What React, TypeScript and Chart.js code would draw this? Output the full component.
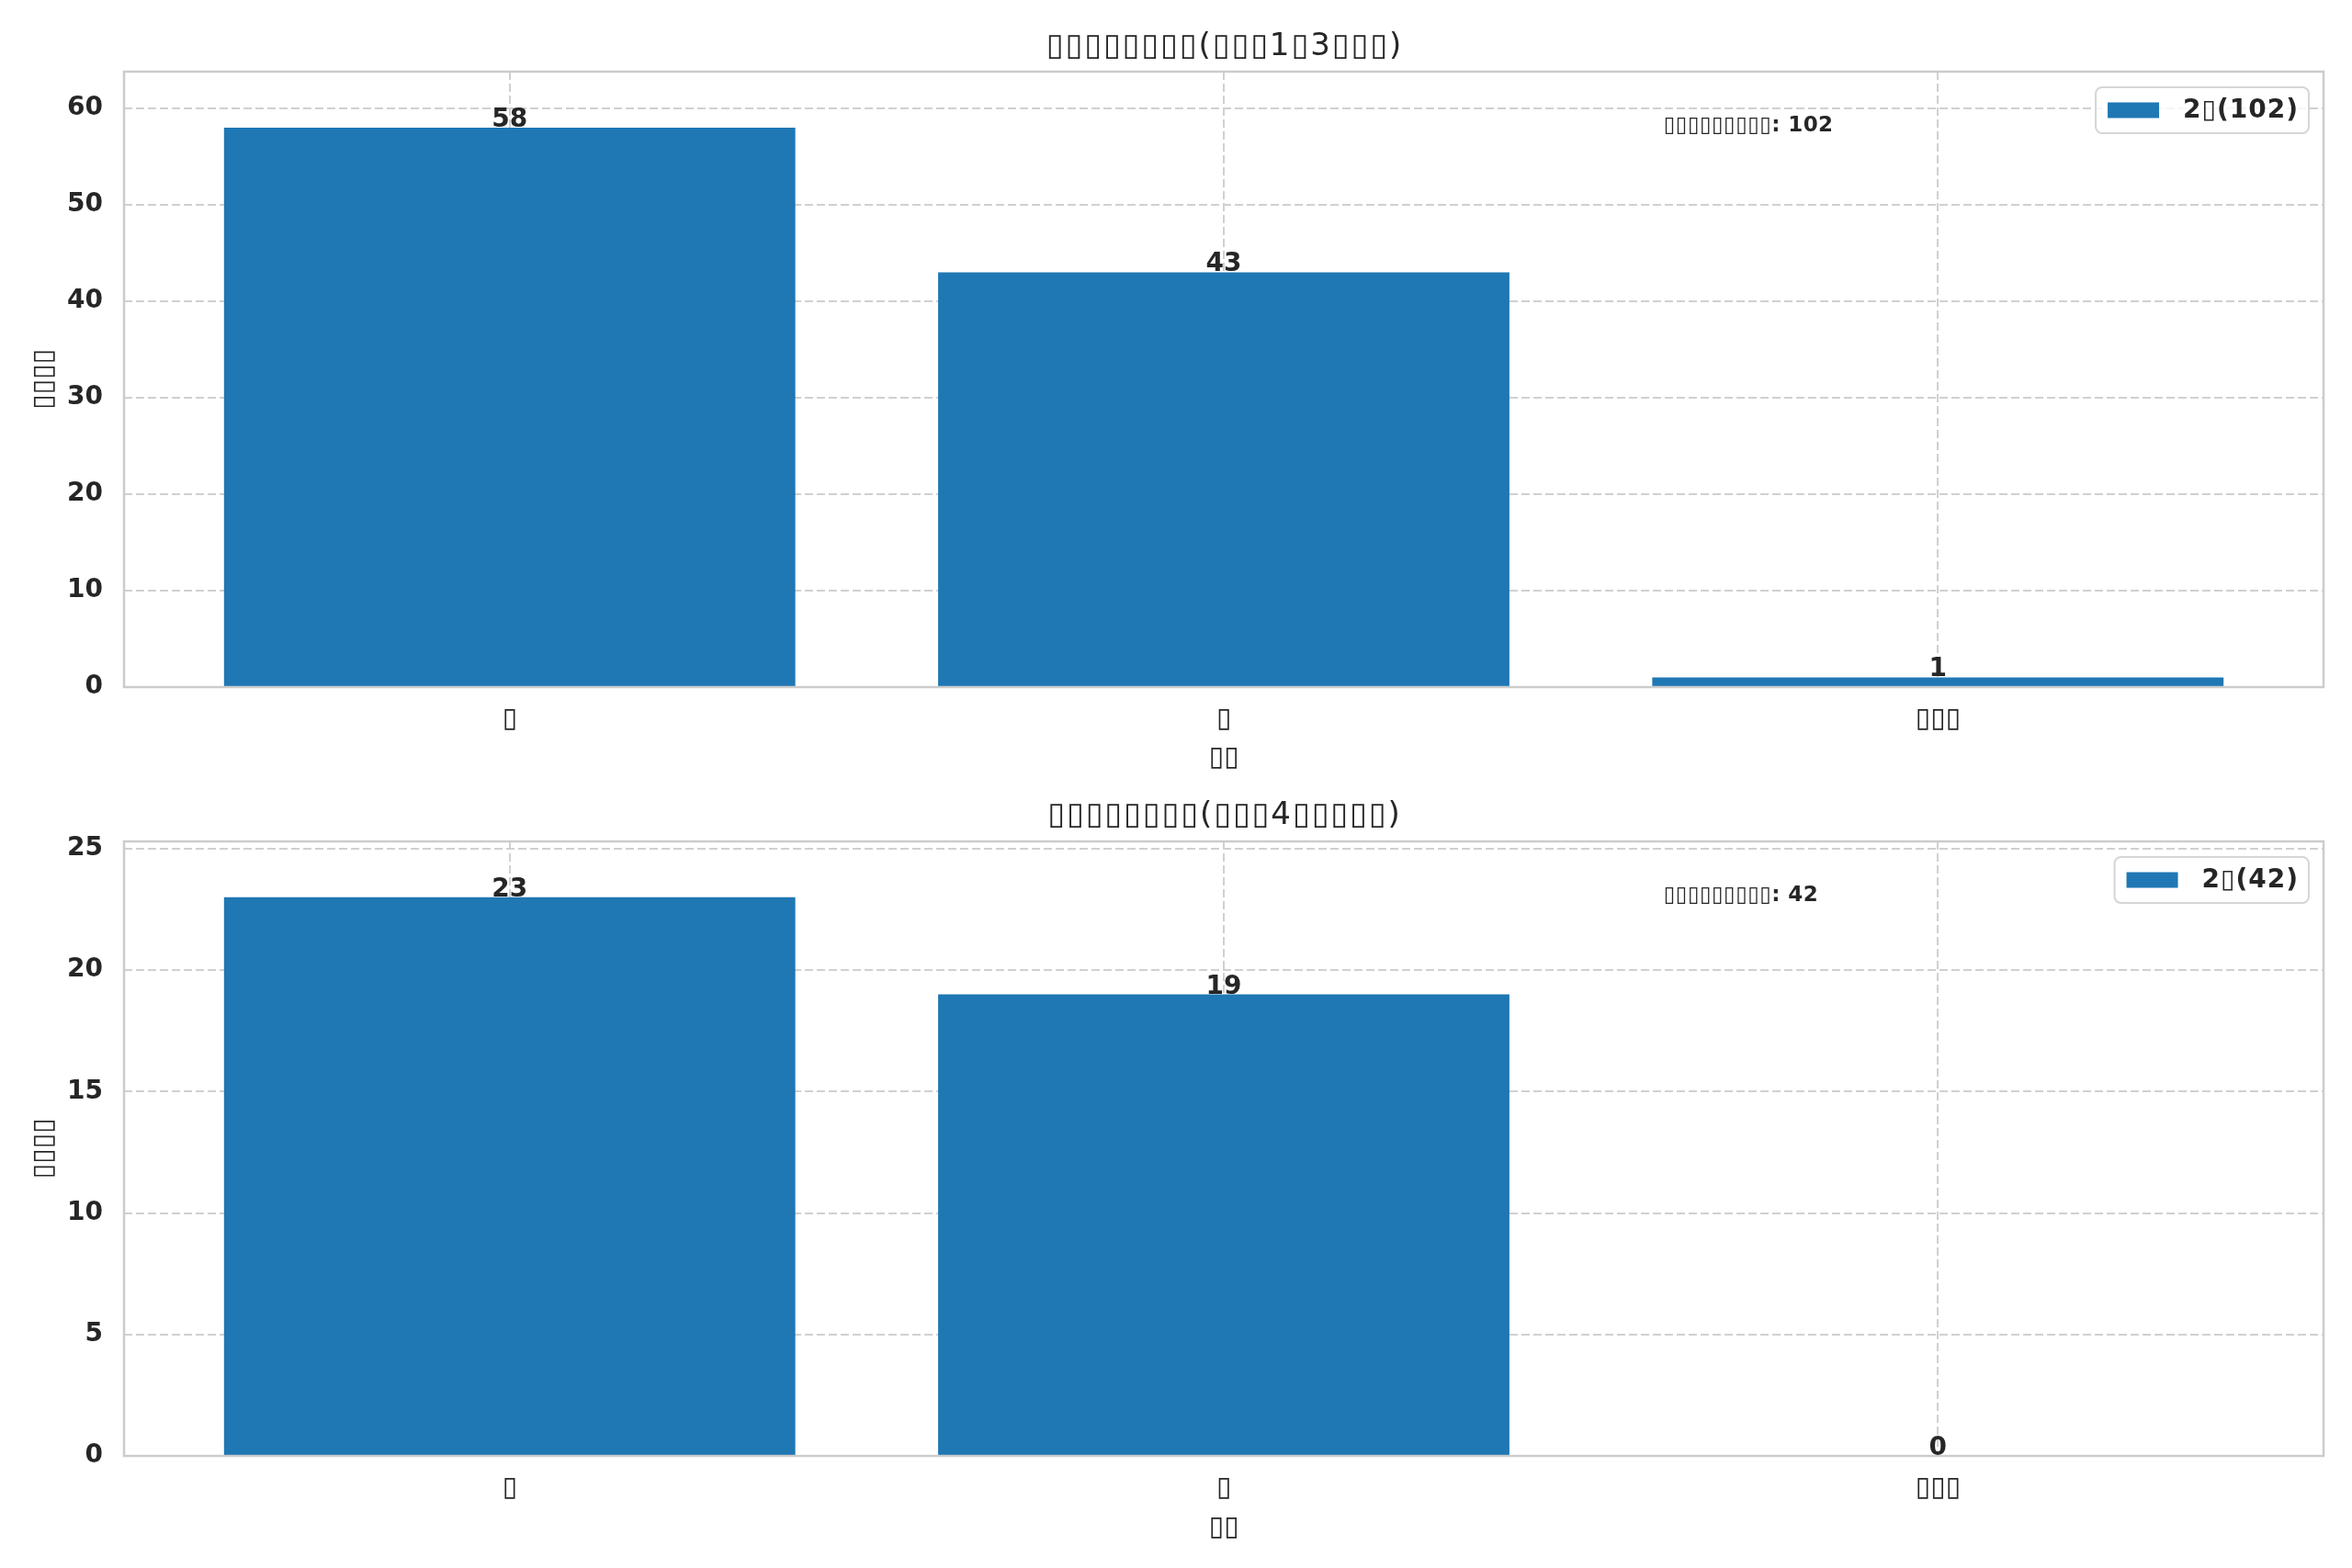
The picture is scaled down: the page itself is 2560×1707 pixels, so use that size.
import React, { useEffect, useRef } from "react";
import { Chart, registerables } from "chart.js";

Chart.register(...registerables);

// data (the original glyphs render as missing-glyph boxes)
const categories = ["▯", "▯", "▯▯▯"];
const topValues = [58, 43, 1];
const bottomValues = [23, 19, 0];
const titles = ["▯▯▯▯▯▯▯▯(▯▯▯1▯3▯▯▯)", "▯▯▯▯▯▯▯▯(▯▯▯4▯▯▯▯▯)"];
const legendLabels = ["2▯(102)", "2▯(42)"];
const noteLabels = ["▯▯▯▯▯▯▯▯▯: 102", "▯▯▯▯▯▯▯▯▯: 42"];
const yMaxes = [63.8, 25.3];
const yStepSizes = [10, 5];
const xLabel = "▯▯";
const yLabel = "▯▯▯▯";

const FONT = "'DejaVu Sans', sans-serif";
const TEXT = "#262626";
const BAR = "#1f77b4";

interface PanelProps {
  values: number[];
  title: string;
  legend: string;
  note: string;
  yMax: number;
  step: number;
  height: number;
  titleY: number;
  plotTop: number;
  plotBottom: number;
  xLabelY: number;
}

const Panel: React.FC<PanelProps> = (p) => {
  const chartRef = useRef<HTMLCanvasElement | null>(null);

  useEffect(() => {
    if (!chartRef.current) return;
    const ctx = chartRef.current.getContext("2d");
    if (!ctx) return;

    const overlay = {
      id: "overlay",
      afterDatasetsDraw(chart: any) {
        const c = chart.ctx;
        const area = chart.chartArea;
        const meta = chart.getDatasetMeta(0);
        c.save();

        // spines all round
        c.strokeStyle = "#cccccc";
        c.lineWidth = 2.5;
        c.setLineDash([]);
        c.strokeRect(area.left, area.top, area.right - area.left, area.bottom - area.top);

        // title, centred on the plot area
        c.font = `34px ${FONT}`;
        c.fillStyle = TEXT;
        c.textAlign = "center";
        c.textBaseline = "middle";
        c.letterSpacing = "2px";
        c.fillText(p.title, (area.left + area.right) / 2 + 1, p.titleY + 1);
        c.letterSpacing = "0px";

        // value labels
        c.font = `bold 28px ${FONT}`;
        c.textBaseline = "alphabetic";
        meta.data.forEach((bar: any, i: number) => {
          c.fillText(String(p.values[i]), bar.x, bar.y - 1);
        });

        // note text
        c.font = `bold 23px ${FONT}`;
        c.letterSpacing = "0.4px";
        c.textAlign = "left";
        c.textBaseline = "middle";
        c.fillText(p.note, area.left + 0.7 * (area.right - area.left), area.top + 59);

        // legend
        c.font = `bold 28px ${FONT}`;
        c.letterSpacing = "1px";
        const tw = c.measureText(p.legend).width;
        const right = area.right - 16;
        const top = area.top + 17;
        const w = 13 + 56 + 26 + tw + 11;
        const h = 50;
        const left = right - w;
        c.beginPath();
        c.roundRect(left, top, w, h, 7);
        c.fillStyle = "rgba(255,255,255,0.8)";
        c.fill();
        c.strokeStyle = "#d6d6d6";
        c.lineWidth = 2;
        c.stroke();
        c.fillStyle = BAR;
        c.fillRect(left + 13, top + h / 2 - 8.5, 56, 17);
        c.fillStyle = TEXT;
        c.textBaseline = "middle";
        c.fillText(p.legend, left + 13 + 56 + 26, top + h / 2 + 1);
        c.letterSpacing = "0px";

        c.restore();
      },
    };

    const chart = new Chart(ctx, {
      type: "bar",
      data: {
        datasets: [
          {
            label: p.legend,
            data: p.values.map((v, i) => ({ x: i, y: v })),
            backgroundColor: BAR,
            borderWidth: 0,
            barPercentage: 0.8,
            categoryPercentage: 1.0,
          },
        ],
      },
      options: {
        responsive: false,
        animation: false,
        layout: { padding: { left: 0, right: 31, top: 0, bottom: 0 } },
        plugins: {
          legend: { display: false },
          tooltip: { enabled: false },
          // reserves the space; the text itself is drawn by the overlay
          title: {
            display: true,
            text: p.title,
            color: "rgba(0,0,0,0)",
            font: { family: FONT, size: 34, weight: "normal", lineHeight: 1.2 },
            padding: { top: p.titleY - 20.4, bottom: p.plotTop - p.titleY - 20.4 },
          },
        },
        scales: {
          x: {
            type: "linear",
            min: -0.54,
            max: 2.54,
            offset: false,
            afterBuildTicks: (scale: any) => {
              scale.ticks = categories.map((_, i) => ({ value: i }));
            },
            afterFit: (scale: any) => {
              scale.height = p.height - p.plotBottom;
            },
            grid: {
              offset: false,
              drawTicks: false,
              color: "#d0d0d0",
              lineWidth: 2,
            },
            border: { display: false, dash: [9, 4] },
            ticks: {
              padding: 17,
              color: TEXT,
              font: { family: FONT, size: 30 },
              callback: (v: any) => categories[v as number] ?? "",
            },
            title: {
              display: true,
              text: xLabel,
              color: TEXT,
              font: { family: FONT, size: 30, lineHeight: 1.2 },
              padding: { top: 0, bottom: p.height - p.xLabelY - 18 - 2 },
            },
          },
          y: {
            min: 0,
            max: p.yMax,
            afterFit: (scale: any) => {
              scale.width = 135;
            },
            grid: {
              drawTicks: false,
              color: "#d0d0d0",
              lineWidth: 2,
            },
            border: { display: false, dash: [9, 4] },
            ticks: {
              stepSize: p.step,
              includeBounds: false,
              padding: 23,
              color: TEXT,
              font: { family: FONT, size: 28, weight: "bold" },
            },
            title: {
              display: true,
              text: yLabel,
              color: TEXT,
              font: { family: FONT, size: 30, lineHeight: 1.2 },
              padding: { top: 30, bottom: 0 },
            },
          },
        },
      } as any,
      plugins: [overlay],
    });

    return () => {
      chart.destroy();
    };
  }, [p]);

  return (
    <canvas
      ref={chartRef}
      width={2560}
      height={p.height}
      style={{ display: "block", width: 2560, height: p.height }}
    />
  );
};

const topPanel: PanelProps = {
  values: topValues,
  title: titles[0],
  legend: legendLabels[0],
  note: noteLabels[0],
  yMax: yMaxes[0],
  step: yStepSizes[0],
  height: 853,
  titleY: 50,
  plotTop: 78,
  plotBottom: 748,
  xLabelY: 823,
};

const bottomPanel: PanelProps = {
  values: bottomValues,
  title: titles[1],
  legend: legendLabels[1],
  note: noteLabels[1],
  yMax: yMaxes[1],
  step: yStepSizes[1],
  height: 854,
  titleY: 34,
  plotTop: 63,
  plotBottom: 732,
  xLabelY: 808,
};

export default function App() {
  return (
    <div
      style={{
        position: "absolute",
        left: 0,
        top: 0,
        width: 2560,
        height: 1707,
        background: "#ffffff",
      }}
    >
      <Panel {...topPanel} />
      <Panel {...bottomPanel} />
    </div>
  );
}
